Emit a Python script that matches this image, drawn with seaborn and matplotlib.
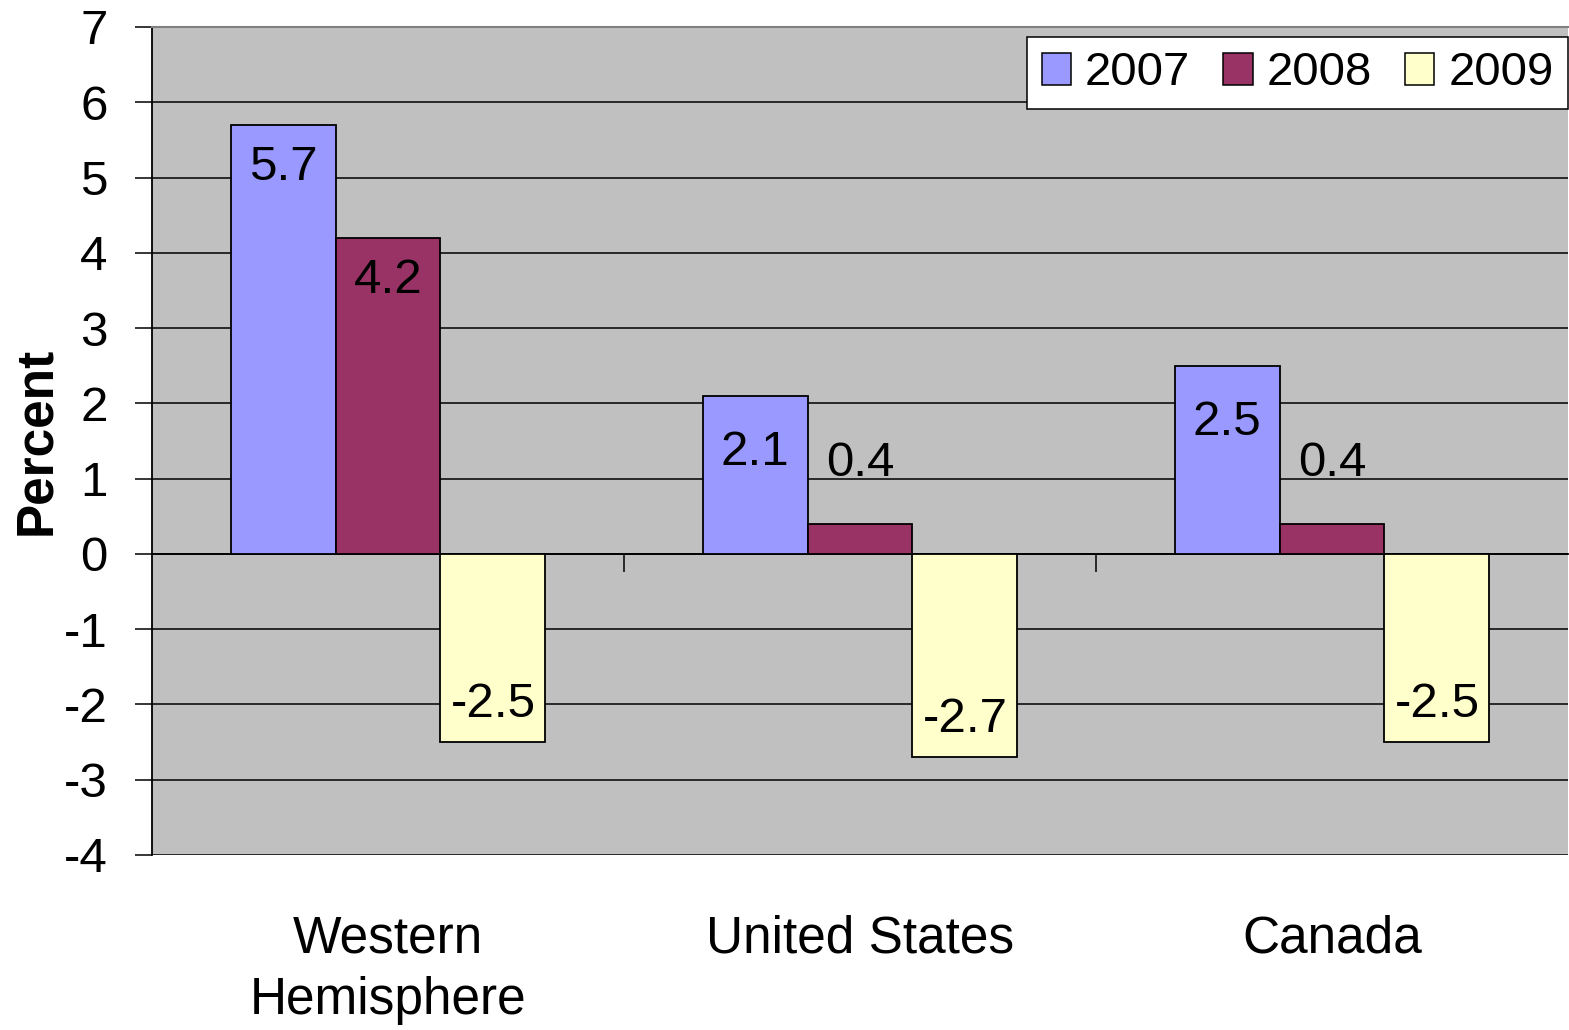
import matplotlib
matplotlib.use("Agg")
import matplotlib.pyplot as plt
import seaborn as sns
import pandas as pd

# Annual real growth by region, percent
regions = ["Western\nHemisphere", "United States", "Canada"]
years = ["2007", "2008", "2009"]
growth_2007 = [5.7, 2.1, 2.5]
growth_2008 = [4.2, 0.4, 0.4]
growth_2009 = [-2.5, -2.7, -2.5]
ytick_values = [-4, -3, -2, -1, 0, 1, 2, 3, 4, 5, 6, 7]
ytick_labels = ["-4", "-3", "-2", "-1", "0", "1", "2", "3", "4", "5", "6", "7"]
bar_colors = ["#9999FF", "#993366", "#FFFFCC"]

series = {"2007": growth_2007, "2008": growth_2008, "2009": growth_2009}
rows = []
for yr in years:
    for reg, val in zip(regions, series[yr]):
        rows.append({"region": reg, "year": yr, "growth": val})
df = pd.DataFrame(rows)

sns.set_theme(style="white")
plt.rcParams["font.family"] = ["Liberation Sans", "DejaVu Sans"]
plt.rcParams["axes.unicode_minus"] = False
for key in ("text.color", "axes.labelcolor", "xtick.color", "ytick.color"):
    plt.rcParams[key] = "black"

W, H = 1569, 1030
fig = plt.figure(figsize=(W / 100, H / 100), dpi=100)
fig.patch.set_facecolor("white")
ax = fig.add_axes([152 / W, 175 / H, (1568 - 152) / W, 828 / H])
ax.set_facecolor("#C0C0C0")

sns.barplot(data=df, x="region", y="growth", hue="year", hue_order=years,
            order=regions, palette=bar_colors, width=0.667, saturation=1,
            edgecolor="black", linewidth=1.3, ax=ax, zorder=3)

ax.set_xlim(-0.5, 2.5)
ax.set_ylim(-4, 7)
ax.set_yticks(ytick_values)
ax.set_yticklabels(ytick_labels)
ax.set_axisbelow(True)
ax.yaxis.grid(True, color="black", linewidth=1.1)
ax.xaxis.grid(False)

# value labels: inside the bar end, or just above very short bars
for container, yr in zip(ax.containers, years):
    for patch, val in zip(container.patches, series[yr]):
        cx = patch.get_x() + patch.get_width() / 2
        if val >= 3:
            ty = val - 0.57
        elif val >= 1:
            ty = val - 0.75
        elif val >= 0:
            ty = val + 0.8
        else:
            ty = val + 0.5
        ax.text(cx, ty, f"{val:g}", ha="center", va="center",
                fontsize=35.5, color="black", zorder=5)

# axes frame
ax.spines["left"].set_color("black")
ax.spines["left"].set_linewidth(1.3)
ax.spines["top"].set_color("#808080")
ax.spines["top"].set_linewidth(1.5)
ax.spines["right"].set_visible(False)
ax.spines["bottom"].set_visible(False)

ax.tick_params(axis="y", which="major", direction="out", length=12,
               width=1.1, color="black", labelcolor="black", pad=20,
               labelsize=35.5, left=True)
ax.tick_params(axis="x", which="major", length=0, pad=43, labelsize=37,
               labelcolor="black")
for lbl in ax.get_xticklabels():
    lbl.set_linespacing(1.32)

# category axis line at zero, with separator ticks between groups
zero_frac = (0 - ax.get_ylim()[0]) / (ax.get_ylim()[1] - ax.get_ylim()[0])
sec = ax.secondary_xaxis(zero_frac)
sec.set_xticks([0.5, 1.5])
sec.set_xticklabels([])
sec.tick_params(axis="x", direction="out", length=13, width=1.1,
                color="black")
sec.spines["bottom"].set_color("black")
sec.spines["bottom"].set_linewidth(1.3)

ax.set_xlabel("")
ax.set_ylabel("Percent", fontsize=37, fontweight="bold", color="black")
ax.yaxis.set_label_coords(-0.0645, 0.5)

handles, labels = ax.get_legend_handles_labels()
leg = ax.legend(handles, labels, ncol=3, loc="upper right",
                bbox_to_anchor=(1.0, 1 - 10 / 828), borderaxespad=0,
                fontsize=34, frameon=True, fancybox=False, framealpha=1,
                edgecolor="black", handlelength=0.62, handleheight=0.66,
                handletextpad=0.3, columnspacing=0.7, borderpad=0.3,
                title=None, labelcolor="black")
leg.get_frame().set_linewidth(1.1)
for h in leg.legend_handles:
    h.set_edgecolor("black")
    h.set_linewidth(1.1)

fig.savefig("out.png", dpi=100, facecolor="white")
